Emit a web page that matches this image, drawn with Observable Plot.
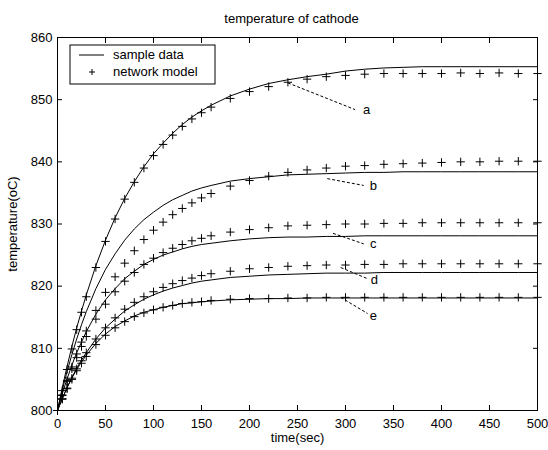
<!DOCTYPE html>
<html><head><meta charset="utf-8">
<script src="https://cdn.jsdelivr.net/npm/d3@7"></script>
<script src="https://cdn.jsdelivr.net/npm/@observablehq/plot@0.6"></script>
<style>body{margin:0;background:#fff}</style>
</head><body><div id="chart"></div>
<script>
const time = [0,5,10,15,20,25,30,40,50,60,70,80,90,100,110,120,130,140,150,160,180,200,220,240,260,280,300,320,340,360,380,400,420,440,460,480,500];

const sampleA = [800,803.7,807.1,810.3,813.3,816.0,818.6,823.3,827.4,831.0,834.1,836.8,839.2,841.3,843.0,844.6,846.0,847.2,848.2,849.1,850.6,851.7,852.6,853.2,853.7,854.1,854.6,854.9,855.1,855.2,855.3,855.3,855.3,855.3,855.3,855.3,855.3];
const modelA  = [800,803.2,806.6,809.9,813.0,815.8,818.3,823.0,827.2,830.8,834.0,836.7,839.0,841.0,842.8,844.3,845.7,846.9,847.9,848.8,850.2,851.3,852.1,852.8,853.3,853.7,853.9,854.1,854.2,854.2,854.2,854.2,854.3,854.2,854.3,854.2,854.2];
const sampleB = [800,803.3,806.3,809.0,811.5,813.8,815.9,819.6,822.7,825.2,827.4,829.2,830.7,831.9,833.0,833.9,834.6,835.3,835.8,836.2,836.9,837.3,837.6,837.9,838.0,838.1,838.2,838.3,838.3,838.4,838.4,838.4,838.4,838.4,838.4,838.4,838.4];
const modelB  = [800,802.5,804.8,807.0,809.1,811.0,812.8,816.1,819.0,821.5,823.7,825.7,827.5,829.0,830.3,831.5,832.5,833.4,834.2,834.9,836.1,837.0,837.7,838.3,838.7,839.0,839.3,839.4,839.6,839.7,839.8,839.9,840.0,840.0,840.1,840.1,840.1];
const sampleC = [800,802.7,805.1,807.3,809.3,811.0,812.7,815.5,817.8,819.6,821.2,822.4,823.5,824.3,825.0,825.5,826.0,826.4,826.7,826.9,827.3,827.6,827.8,827.9,827.9,828.0,828.0,828.1,828.1,828.1,828.1,828.1,828.1,828.1,828.1,828.1,828.1];
const modelC  = [800,802.4,804.7,806.7,808.5,810.3,811.9,814.7,817.1,819.1,820.8,822.2,823.5,824.5,825.4,826.1,826.7,827.3,827.7,828.1,828.7,829.1,829.4,829.7,829.8,829.9,830.0,830.0,830.1,830.1,830.2,830.2,830.2,830.2,830.2,830.2,830.2];
const sampleD = [800,801.9,803.7,805.3,806.8,808.1,809.3,811.5,813.3,814.7,816.0,817.0,817.9,818.6,819.2,819.7,820.1,820.5,820.8,821.0,821.4,821.6,821.8,821.9,822.0,822.1,822.1,822.1,822.2,822.2,822.2,822.2,822.2,822.2,822.2,822.2,822.2];
const modelD  = [800,801.9,803.6,805.2,806.7,808.0,809.3,811.5,813.3,814.9,816.3,817.4,818.3,819.1,819.8,820.4,820.9,821.3,821.7,822.0,822.4,822.8,823.0,823.2,823.3,823.4,823.4,823.5,823.5,823.6,823.6,823.6,823.6,823.6,823.6,823.6,823.6];
const sampleE = [800,801.9,803.7,805.2,806.6,807.8,808.9,810.8,812.3,813.5,814.4,815.2,815.8,816.2,816.6,816.9,817.2,817.3,817.5,817.6,817.8,817.9,818.0,818.0,818.1,818.1,818.1,818.1,818.1,818.1,818.1,818.1,818.1,818.1,818.1,818.1,818.1];
const modelE  = [800,801.8,803.5,805.0,806.4,807.6,808.7,810.6,812.1,813.3,814.3,815.1,815.7,816.2,816.6,816.9,817.2,817.4,817.5,817.7,817.9,818.0,818.0,818.1,818.1,818.2,818.2,818.2,818.2,818.2,818.2,818.2,818.2,818.2,818.2,818.2,818.2];

const curveNames = ["a","b","c","d","e"];
const labelTime = [322,329,329,330,329];
const labelTemp = [848.4,836.2,826.8,821.0,815.3];
const leaderFromTime = [240,281,287,295,295];
const leaderFromTemp = [852.7,837.3,828.5,823.0,818.2];
const leaderToTime = [310,319,319,323,323];
const leaderToTemp = [848.4,836.2,826.8,821.2,815.6];

const xTicks = [0,50,100,150,200,250,300,350,400,450,500];
const yTicks = [800,810,820,830,840,850,860];
const titleText = "temperature of cathode";
const xLabel = "time(sec)";
const yLabel = "temperature(oC)";
const legendLabels = ["sample data","network model"];

const samples = [sampleA,sampleB,sampleC,sampleD,sampleE];
const models = [modelA,modelB,modelC,modelD,modelE];
const sampleRows = samples.flatMap((s,i) => time.map((t,j) => ({t, T: s[j], curve: curveNames[i]})));
const modelRows = models.flatMap((s,i) => time.map((t,j) => ({t, T: s[j], curve: curveNames[i]})));
const leaders = curveNames.map((c,i) => ({c, x1: leaderFromTime[i], y1: leaderFromTemp[i], x2: leaderToTime[i], y2: leaderToTemp[i]}));
const labels = curveNames.map((c,i) => ({c, t: labelTime[i], T: labelTemp[i]}));

const font = "'Liberation Sans', Arial, Helvetica, sans-serif";

const chart = Plot.plot({
  width: 548, height: 450,
  marginLeft: 57, marginRight: 11, marginTop: 37, marginBottom: 40,
  style: {fontFamily: font, fontSize: "13px", background: "white", color: "black"},
  x: {domain: [0,500]},
  y: {domain: [800,860]},
  marks: [
    Plot.frame({stroke: "black", strokeWidth: 1}),
    Plot.axisX({anchor: "bottom", ticks: xTicks, tickSize: -5, tickPadding: 13, label: xLabel, labelAnchor: "center", labelArrow: "none", labelOffset: 31, tickFormat: d => String(d)}),
    Plot.axisX({anchor: "top", ticks: xTicks, tickSize: -5, tickFormat: () => "", label: null}),
    Plot.axisY({anchor: "left", ticks: yTicks, tickSize: -5, tickPadding: 10, label: yLabel, labelAnchor: "center", labelArrow: "none", labelOffset: 50, tickFormat: d => String(d)}),
    Plot.axisY({anchor: "right", ticks: yTicks, tickSize: -5, tickFormat: () => "", label: null}),
    Plot.line(sampleRows, {x: "t", y: "T", z: "curve", stroke: "black", strokeWidth: 1}),
    Plot.dot(modelRows, {x: "t", y: "T", symbol: "plus", r: 2.8, stroke: "black", strokeWidth: 1}),
    Plot.link(leaders, {x1: "x1", y1: "y1", x2: "x2", y2: "y2", stroke: "black", strokeWidth: 1, strokeDasharray: "3,2"}),
    Plot.text(labels, {x: "t", y: "T", text: "c", fill: "black", fontSize: 13, textAnchor: "middle"}),
    Plot.text([titleText], {frameAnchor: "top", dx: -6, dy: -24, fill: "black", fontSize: 13})
  ]
});
document.getElementById("chart").appendChild(chart);

// legend box (inside plot area, top-left)
const svg = d3.select(chart);
const lg = svg.append("g").attr("font-family", font).attr("font-size", 13).attr("text-anchor", "start");
lg.append("rect").attr("x", 70).attr("y", 45).attr("width", 145).attr("height", 39)
  .attr("fill", "white").attr("stroke", "black").attr("stroke-width", 1);
lg.append("line").attr("x1", 79).attr("x2", 104).attr("y1", 55).attr("y2", 55).attr("stroke", "black");
lg.append("path").attr("d", "M89,72h6M92,69v6").attr("stroke", "black").attr("fill", "none");
lg.append("text").attr("x", 113).attr("y", 55).attr("dy", "0.32em").attr("text-anchor", "start").text(legendLabels[0]);
lg.append("text").attr("x", 113).attr("y", 72).attr("dy", "0.32em").attr("text-anchor", "start").text(legendLabels[1]);
</script>
</body></html>
